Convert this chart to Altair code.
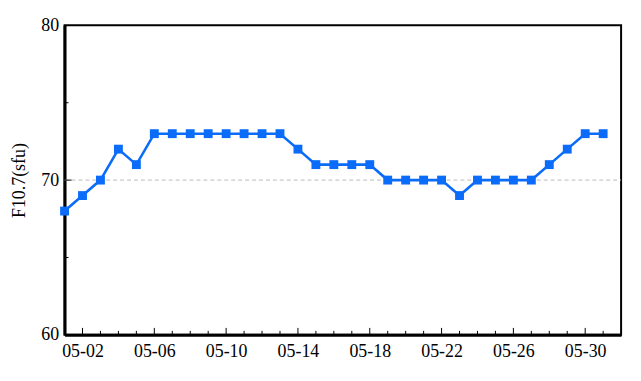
import altair as alt
import pandas as pd

dates = ["05-01", "05-02", "05-03", "05-04", "05-05", "05-06", "05-07", "05-08",
         "05-09", "05-10", "05-11", "05-12", "05-13", "05-14", "05-15", "05-16",
         "05-17", "05-18", "05-19", "05-20", "05-21", "05-22", "05-23", "05-24",
         "05-25", "05-26", "05-27", "05-28", "05-29", "05-30", "05-31"]
f107 = [68, 69, 70, 72, 71, 73, 73, 73, 73, 73, 73, 73, 73, 72, 71, 71,
        71, 71, 70, 70, 70, 70, 69, 70, 70, 70, 70, 71, 72, 73, 73]
major_x = [2, 6, 10, 14, 18, 22, 26, 30]
minor_y = [65, 75]
major_y = [70]
y_labels = [60, 70, 80]

W, H = 561, 312
FONT = "Liberation Serif"
BLUE = "#0a6cf8"

df = pd.DataFrame({"day": [int(d.split("-")[1]) for d in dates], "f107": f107})
xmaj = pd.DataFrame({"day": major_x})
xmin = pd.DataFrame({"day": [d for d in df["day"] if d not in major_x and d != 1]})
ymaj = pd.DataFrame({"v": major_y})
ymin = pd.DataFrame({"v": minor_y})

xscale = alt.Scale(domain=[1, 32], nice=False, zero=False)
yscale = alt.Scale(domain=[60, 80], nice=False, zero=False)

xaxis = alt.Axis(values=major_x, ticks=False, grid=False, title=None,
                 labelExpr="'05-' + (datum.value < 10 ? '0' : '') + datum.value",
                 labelFont=FONT, labelFontSize=18, labelColor="black",
                 labelPadding=8, domainColor="black", domainWidth=3)
yaxis = alt.Axis(values=y_labels, ticks=False, grid=False, title="F10.7(sfu)",
                 labelFont=FONT, labelFontSize=18, labelColor="black", labelPadding=6,
                 titleFont=FONT, titleFontSize=18, titleFontWeight="normal",
                 titleColor="black", titlePadding=12,
                 domainColor="black", domainWidth=3)

grid = alt.Chart(ymaj).mark_rule(color="#bbbbbb", strokeDash=[4, 3], strokeWidth=1).encode(
    y=alt.Y("v:Q", scale=yscale, axis=yaxis),
    x=alt.value(0), x2=alt.value(W))

line = alt.Chart(df).mark_line(color=BLUE, strokeWidth=2.6).encode(
    x=alt.X("day:Q", scale=xscale, axis=xaxis),
    y=alt.Y("f107:Q", scale=yscale, axis=yaxis))
pts = alt.Chart(df).mark_square(color=BLUE, size=80, opacity=1).encode(
    x=alt.X("day:Q", scale=xscale), y=alt.Y("f107:Q", scale=yscale))

xt_major = alt.Chart(xmaj).mark_rule(color="black", strokeWidth=1).encode(
    x=alt.X("day:Q", scale=xscale), y=alt.value(H), y2=alt.value(H - 7))
xt_minor = alt.Chart(xmin).mark_rule(color="black", strokeWidth=1).encode(
    x=alt.X("day:Q", scale=xscale), y=alt.value(H), y2=alt.value(H - 4))
yt_major = alt.Chart(ymaj).mark_rule(color="black", strokeWidth=1).encode(
    y=alt.Y("v:Q", scale=yscale), x=alt.value(0), x2=alt.value(7))
yt_minor = alt.Chart(ymin).mark_rule(color="black", strokeWidth=1).encode(
    y=alt.Y("v:Q", scale=yscale), x=alt.value(0), x2=alt.value(4))

chart = alt.layer(grid, xt_major, xt_minor, yt_major, yt_minor, line, pts).properties(
    width=W, height=H,
    autosize=alt.AutoSizeParams(type="none"),
    padding={"left": 57, "top": 16, "right": 12, "bottom": 40},
    background="white",
).configure_view(stroke="black", strokeWidth=2)

chart.save("out.html", embed_options={"renderer": "svg", "actions": False})
